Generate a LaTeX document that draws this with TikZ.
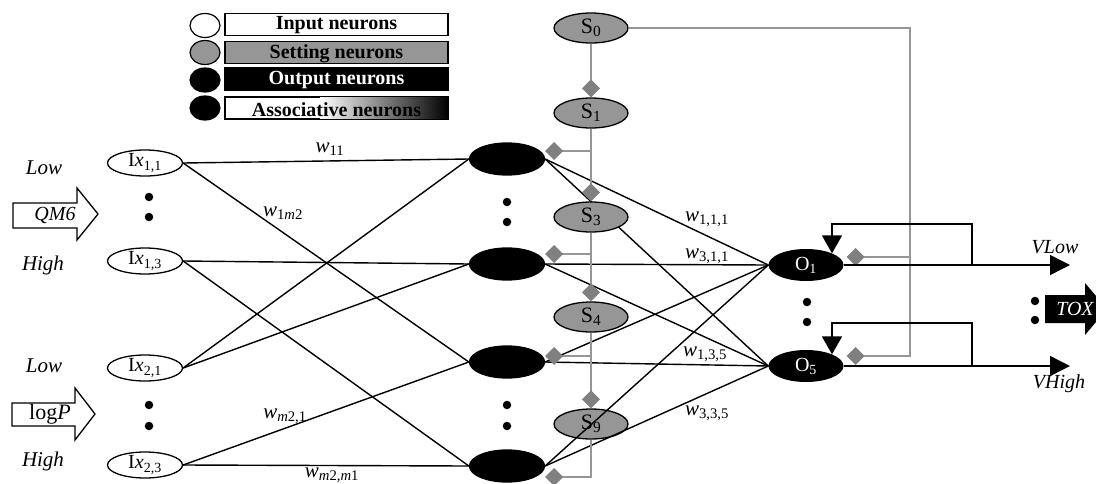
\documentclass[tikz,border=0pt]{standalone}
\usepackage{fontspec}
\setmainfont{Liberation Serif}
\usetikzlibrary{arrows.meta,shapes.geometric}
\definecolor{setgray}{RGB}{150,150,150}
\definecolor{linegray}{RGB}{150,150,150}
\definecolor{diagray}{RGB}{128,128,128}
\newcommand{\fsz}[1]{\fontsize{#1}{#1}\selectfont}
\newcommand{\sub}[1]{\textsubscript{#1}}
\begin{document}
\begin{tikzpicture}[x=1pt,y=-1pt,
  wire/.style={line width=1.4pt},
  inp/.style={ellipse,draw,line width=1.3pt,fill=white,minimum width=75pt,minimum height=26pt,inner sep=0pt,font=\fsz{20}},
  asc/.style={ellipse,draw,line width=1.3pt,fill=black,minimum width=75pt,minimum height=32pt,inner sep=0pt},
  setn/.style={ellipse,draw,line width=1.3pt,fill=setgray,minimum width=74pt,minimum height=30pt,inner sep=0pt,font=\fsz{22}},
  outn/.style={ellipse,fill=black,minimum width=75pt,minimum height=32pt,inner sep=0pt,text=white,font=\fsz{20}},
  blackdot/.style={circle,fill=black,inner sep=0pt,minimum size=8.5pt},
  lvl/.style={font=\fsz{21}\itshape},
  wlab/.style={font=\fsz{21}},
  sline/.style={draw=linegray,line width=1.6pt},
  sdia/.style={sline,-{Diamond[width=18pt,length=18pt,color=diagray]}},
  fbk/.style={wire,-{Triangle[width=20pt,length=18pt]}},
  outarr/.style={wire,-{Triangle[width=20pt,length=20pt]}},
  legc/.style={ellipse,draw,line width=1.2pt,minimum width=30pt,minimum height=24pt,inner sep=0pt},
  legbox/.style={draw,line width=1.2pt,minimum width=223pt,minimum height=22pt,inner sep=0pt},
  legtxt/.style={font=\fsz{20}\bfseries},
  bigarrow/.style={draw,line width=1.3pt,fill=white},
]
\useasboundingbox (0,0) rectangle (1096,483);

% ---------- legend ----------
\node[legc,fill=white]   (c1) at (205,25.5) {};
\node[legc,fill=setgray] (c2) at (205,52.5) {};
\node[legc,fill=black]   (c3) at (205,80) {};
\node[legc,fill=black]   (c4) at (205,108) {};

\node[legbox,fill=white]   (b1) at (336.5,24.5) {};
\node[legbox,fill=setgray] (b2) at (336.5,52.5) {};
\node[legbox,fill=black]   (b3) at (336.5,79) {};
\node[legbox,fill=white]   (b4) at (336.5,108) {};
\shade[left color=white,right color=black] (320,97) rectangle (448,119);
\draw[line width=1.2pt] (b4.south west) rectangle (b4.north east);

\begin{scope}
  \clip (b1.south west) rectangle (b1.north east);
  \node[legtxt] (t1) at (336.5,25) {Input neurons};
\end{scope}
\begin{scope}
  \clip (b2.south west) rectangle (b2.north east);
  \node[legtxt] (t2) at (336.5,54) {Setting neurons};
\end{scope}
\begin{scope}
  \clip (b3.south west) rectangle (b3.north east);
  \node[legtxt,text=white] (t3) at (336.5,80.5) {Output neurons};
\end{scope}
\begin{scope}
  \clip (b4.south west) rectangle (b4.north east);
  \node[legtxt] (t4) at (336.5,110) {Associative neurons};
\end{scope}

% ---------- input side ----------
\draw[bigarrow] (13,203) -- (77,203) -- (77,188) -- (98,214) -- (77,240) -- (77,228) -- (13,228) -- cycle;
\node[font=\fsz{20}\itshape] (qm) at (55,215) {QM6};
\draw[bigarrow] (12,403) -- (75,403) -- (75,388) -- (95,414) -- (75,440) -- (75,426) -- (12,426) -- cycle;
\node[font=\fsz{22}] (lp) at (50,414) {log\textit{P}};

\node[lvl] (lo1) at (44,168) {Low};
\node[lvl] (hi1) at (43,265) {High};
\node[lvl] (lo2) at (44,366) {Low};
\node[lvl] (hi2) at (43,461) {High};

\node[inp] (i11) at (145,163) {I\textit{x}\sub{1,1}};
\node[inp] (i13) at (145,261) {I\textit{x}\sub{1,3}};
\node[inp] (i21) at (145,368) {I\textit{x}\sub{2,1}};
\node[inp] (i23) at (145,465) {I\textit{x}\sub{2,3}};

\node[blackdot] (d1) at (149,197) {};
\node[blackdot] (d2) at (149,217) {};
\node[blackdot] (d3) at (149,405) {};
\node[blackdot] (d4) at (149,426) {};

% ---------- associative layer ----------
\node[asc] (a1) at (507,159) {};
\node[asc] (a2) at (507,264) {};
\node[asc] (a3) at (507,362) {};
\node[asc] (a4) at (507,466) {};

\node[blackdot] (d5) at (507,202) {};
\node[blackdot] (d6) at (507,222) {};
\node[blackdot] (d7) at (507,405) {};
\node[blackdot] (d8) at (507,426) {};

\draw[wire] (i11.east) -- (a1.west);
\draw[wire] (i11.east) -- (a3.west);
\draw[wire] (i13.east) -- (a2.west);
\draw[wire] (i13.east) -- (a4.west);
\draw[wire] (i21.east) -- (a1.west);
\draw[wire] (i21.east) -- (a2.west);
\draw[wire] (i23.east) -- (a3.west);
\draw[wire] (i23.east) -- (a4.west);

\node[wlab] (w1) at (330,149) {\textit{w}\sub{11}};
\node[wlab] (w2) at (283,213) {\textit{w}\sub{1\textit{m}2}};
\node[wlab] (w3) at (285,416) {\textit{w}\sub{\textit{m}2,1}};
\node[wlab] (w4) at (332,475) {\textit{w}\sub{\textit{m}2,\textit{m}1}};

% ---------- output layer ----------
\node[outn] (o1) at (806,265) {O\sub{1}};
\node[outn] (o5) at (806,366) {O\sub{5}};
\node[blackdot] (d9) at (807,302) {};
\node[blackdot] (d10) at (807,322) {};

\draw[wire] (a1.east) -- (o1.west);
\draw[wire] (a1.east) -- (o5.west);
\draw[wire] (a2.east) -- (o1.west);
\draw[wire] (a2.east) -- (o5.west);
\draw[wire] (a3.east) -- (o1.west);
\draw[wire] (a3.east) -- (o5.west);

\node[wlab] (w5) at (707,219) {\textit{w}\sub{1,1,1}};
\node[wlab] (w6) at (707,256) {\textit{w}\sub{3,1,1}};
\node[wlab] (w7) at (705,354) {\textit{w}\sub{1,3,5}};
\node[wlab] (w8) at (707,413) {\textit{w}\sub{3,3,5}};

% ---------- setting neurons ----------
\node[setn] (s0) at (591,28) {S\sub{0}};
\node[setn] (s1) at (591,113) {S\sub{1}};
\node[setn] (s3) at (591,217) {S\sub{3}};
\node[setn] (s4) at (591,317) {S\sub{4}};
\node[setn] (s9) at (591,424) {S\sub{9}};

\draw[wire] (a4.east) -- (o1.west);
\draw[wire] (a4.east) -- (o5.west);

\coordinate (j1) at (591,151);
\coordinate (j2) at (591,254);
\coordinate (j3) at (591,356);
\coordinate (j4) at (591,477);
\draw[sdia] (s0) -- (s1);
\draw[sdia] (s1) -- (s3);
\draw[sdia] (s3) -- (s4);
\draw[sdia] (s4) -- (s9);
\draw[sdia] (s9.south) -- (j4) -- ([yshift=-11pt]a4.east);
\draw[sdia] (j1) -- ([yshift=8pt]a1.east);
\draw[sdia] (j2) -- ([yshift=10pt]a2.east);
\draw[sdia] (j3) -- ([yshift=6pt]a3.east);

\coordinate (g0) at (910,28);
\coordinate (g1) at (910,257);
\coordinate (g5) at (910,356);
\draw[sdia] (s0.east) -- (g0) -- (g5) -- ([shift={(3pt,10pt)}]o5.east);
\draw[sdia] (g1) -- ([shift={(3pt,8pt)}]o1.east);

% ---------- outputs and feedback ----------
\coordinate (vl) at (1070,265);
\coordinate (vh) at (1070,366);
\draw[outarr] (o1.east) -- (vl);
\draw[outarr] (o5.east) -- (vh);
\coordinate (r1) at (972,265);
\coordinate (r5) at (972,366);
\coordinate (k1) at (832,224);
\coordinate (k5) at (832,323);
\draw[fbk] (r1) |- (k1) -- (k1 |- o1.24);
\draw[fbk] (r5) |- (k5) -- (k5 |- o5.24);

\node[font=\fsz{20}\itshape] (vlow) at (1055,247) {VLow};
\node[font=\fsz{20}\itshape] (vhigh) at (1059,384) {VHigh};

\node[blackdot] (d11) at (1035,301) {};
\node[blackdot] (d12) at (1035,320) {};
\fill[black] (1045,295) -- (1085,295) -- (1085,283) -- (1107,309) -- (1085,335) -- (1085,323) -- (1045,323) -- cycle;
\node[font=\fsz{20}\itshape,text=white] (tox) at (1075,309) {TOX};
\end{tikzpicture}
\end{document}
